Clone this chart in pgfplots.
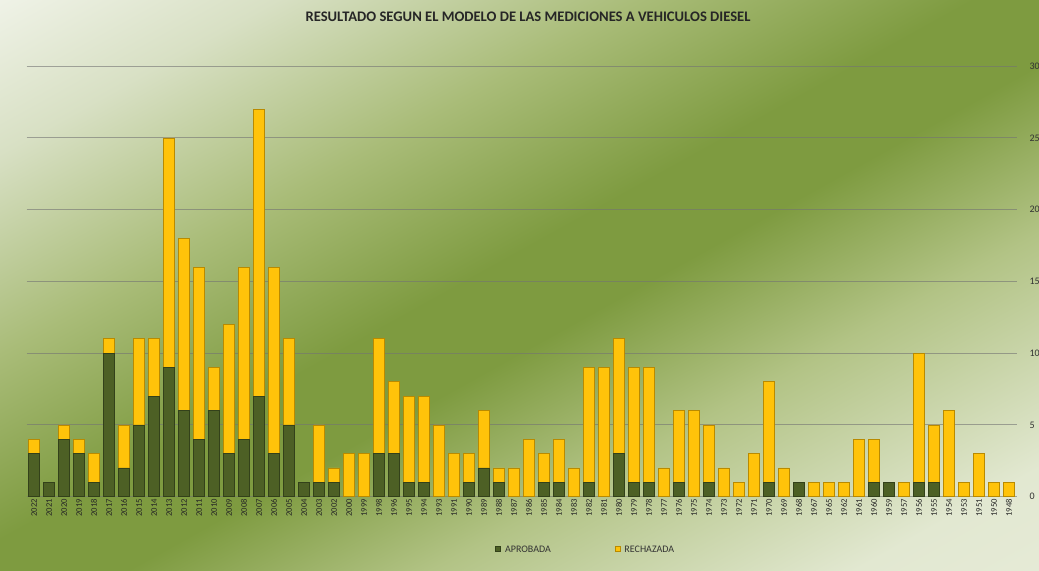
\documentclass[border=0pt]{standalone}
\usepackage{pgfplots}
\usepackage{pgfplotstable}
\pgfplotsset{compat=1.18}
\usepackage{fontspec}
\setmainfont{Carlito}
\definecolor{bg0}{HTML}{EEF0E3}
\definecolor{bg1}{HTML}{E2E8D1}
\definecolor{bg2}{HTML}{B2C385}
\definecolor{bgd}{HTML}{7E9B40}
\definecolor{bg3}{HTML}{A9BC78}
\definecolor{bg4}{HTML}{D8E0C4}
\definecolor{bg5}{HTML}{F4F6EE}
\definecolor{gc}{HTML}{4D6025}
\definecolor{ge}{HTML}{33411A}
\definecolor{yc}{HTML}{FFC30A}
\definecolor{ye}{HTML}{B98A00}
\pgfdeclareverticalshading{bgsh}{100bp}{color(0bp)=(bg0); color(22bp)=(bg1); color(36bp)=(bg2); color(46bp)=(bgd); color(52bp)=(bgd); color(63bp)=(bg3); color(75bp)=(bg4); color(86bp)=(bg5); color(100bp)=(bg5)}
\pgfplotstableread{
year A R
2022 3 1
2021 1 0
2020 4 1
2019 3 1
2018 1 2
2017 10 1
2016 2 3
2015 5 6
2014 7 4
2013 9 16
2012 6 12
2011 4 12
2010 6 3
2009 3 9
2008 4 12
2007 7 20
2006 3 13
2005 5 6
2004 1 0
2003 1 4
2002 1 1
2000 0 3
1999 0 3
1998 3 8
1996 3 5
1995 1 6
1994 1 6
1993 0 5
1991 0 3
1990 1 2
1989 2 4
1988 1 1
1987 0 2
1986 0 4
1985 1 2
1984 1 3
1983 0 2
1982 1 8
1981 0 9
1980 3 8
1979 1 8
1978 1 8
1977 0 2
1976 1 5
1975 0 6
1974 1 4
1973 0 2
1972 0 1
1971 0 3
1970 1 7
1969 0 2
1968 1 0
1967 0 1
1965 0 1
1962 0 1
1961 0 4
1960 1 3
1959 1 0
1957 0 1
1956 1 9
1955 1 4
1954 0 6
1953 0 1
1951 0 3
1950 0 1
1948 0 1
}\data
\begin{document}
\begin{tikzpicture}
\shade[shading=bgsh, shading angle=29] (0,0) rectangle (519.5pt,285.5pt);
\useasboundingbox (0,0) rectangle (519.5pt,285.5pt);
\begin{axis}[
  at={(13.25pt,37.15pt)}, anchor=south west,
  scale only axis, width=495pt, height=215.25pt,
  ybar stacked, bar width=5.2pt,
  xmin=-0.5, xmax=65.5, ymin=0, ymax=30,
  xtick=data, xticklabels from table={\data}{year},
  xticklabel style={rotate=90, anchor=east, font=\fontsize{4.3}{5}\selectfont, text=black!85, inner sep=1pt},
  ytick={0,5,...,30}, yticklabel pos=right,
  yticklabel style={font=\fontsize{5}{6}\selectfont, text=black!80, xshift=3pt},
  major tick length=0pt,
  axis line style={draw=none},
  ymajorgrids, grid style={draw=black!55, line width=0.5pt, opacity=0.6},
  /pgf/number format/assume math mode=true,
  legend style={at={(0.566,-0.126)}, anchor=center, legend columns=2, draw=none, fill=none,
    font=\fontsize{5}{6}\selectfont, text=black!80,
    /tikz/every even column/.append style={column sep=30pt}},
  legend image code/.code={\fill[#1] (0pt,-0.3pt) rectangle (2.4pt,2.1pt);},
]
\addplot[fill=gc, draw=ge, line width=0.4pt] table[x expr=\coordindex, y=A]{\data};
\addlegendentry{APROBADA}
\addplot[fill=yc, draw=ye, line width=0.4pt] table[x expr=\coordindex, y=R]{\data};
\addlegendentry{RECHAZADA}
\end{axis}
\node[font=\bfseries\fontsize{7.3}{8}\selectfont, text=black!85] at (264pt,277pt) {RESULTADO SEGUN EL MODELO DE LAS MEDICIONES A VEHICULOS DIESEL};
\end{tikzpicture}
\end{document}
